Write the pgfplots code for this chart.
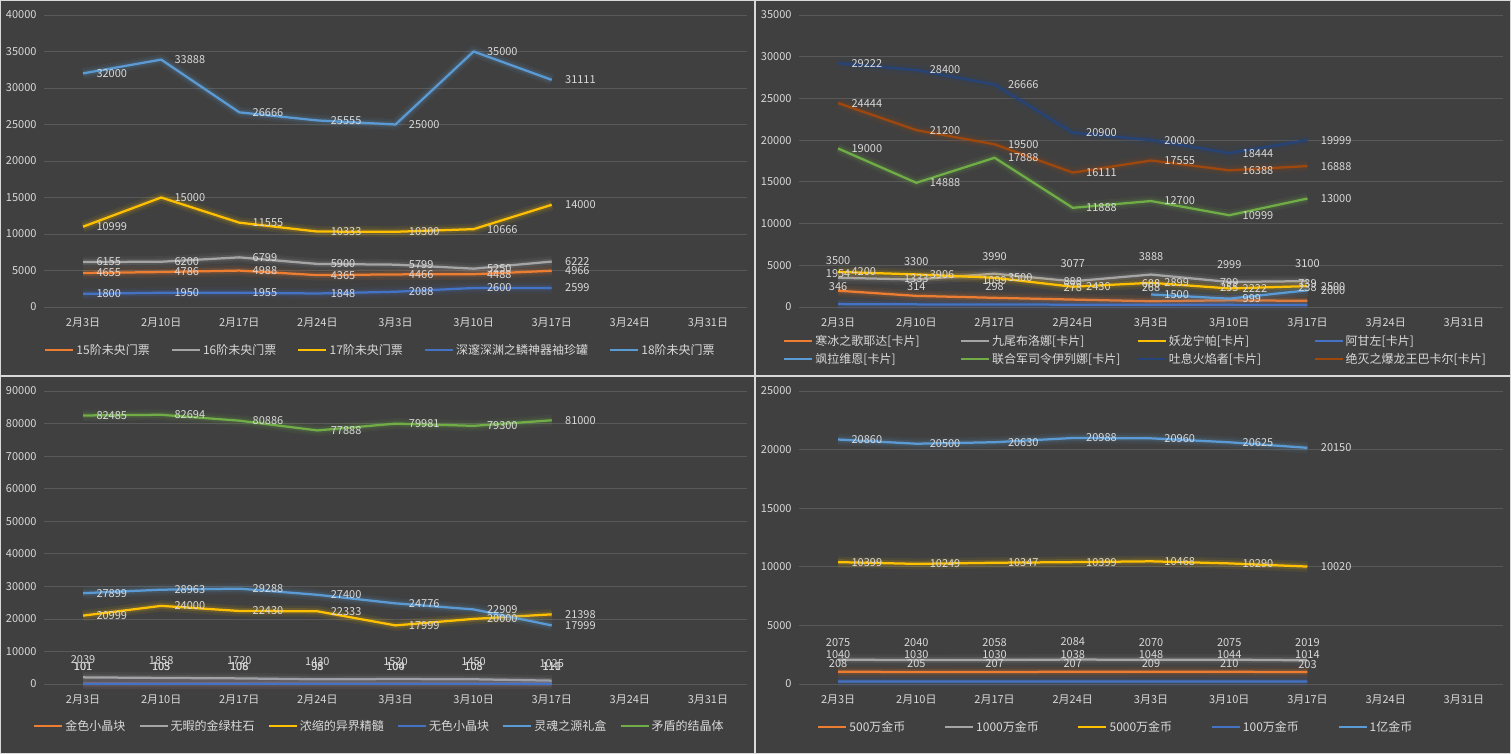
\documentclass[border=0pt]{standalone}
\usepackage{pgfplots}
\pgfplotsset{compat=1.18}
\usepackage{pgfplotstable}
\usepackage{fontspec}
\setmainfont{Noto Sans CJK SC}

\definecolor{bg}{HTML}{404040}
\definecolor{sepc}{HTML}{D9D9D9}
\definecolor{gridc}{HTML}{595959}
\definecolor{txt}{HTML}{D9D9D9}
\definecolor{c1}{HTML}{ED7D31}
\definecolor{c2}{HTML}{A5A5A5}
\definecolor{c3}{HTML}{FFC000}
\definecolor{c4}{HTML}{4472C4}
\definecolor{c5}{HTML}{5B9BD5}
\definecolor{c6}{HTML}{70AD47}
\definecolor{c7}{HTML}{264478}
\definecolor{c8}{HTML}{9E480E}

% top left: tickets
\pgfplotstableread{
x a b c d e
0 4655 6155 10999 1800 32000
1 4786 6200 15000 1950 33888
2 4988 6799 11555 1955 26666
3 4365 5900 10333 1848 25555
4 4466 5799 10300 2088 25000
5 4488 5250 10666 2600 35000
6 4966 6222 14000 2599 31111
}\tla

% top right: cards
\pgfplotstableread{
x a b c d e f g h
0 1954 3500 4200 346 nan 19000 29222 24444
1 1333 3300 3906 314 nan 14888 28400 21200
2 1099 3990 3500 298 nan 17888 26666 19500
3 888 3077 2430 278 nan 11888 20900 16111
4 688 3888 2899 268 1500 12700 20000 17555
5 799 2999 2222 255 999 10999 18444 16388
6 739 3100 2500 238 2000 13000 19999 16888
}\tra

% bottom left: materials
\pgfplotstableread{
x a b c d e f
0 101 2039 20999 101 27899 82485
1 103 1858 24000 105 28963 82694
2 108 1720 22430 106 29288 80886
3 98 1430 22333 95 27400 77888
4 104 1520 17999 100 24776 79981
5 108 1450 20000 103 22909 79300
6 111 1025 21398 110 17999 81000
}\bla

% bottom right: gold
\pgfplotstableread{
x a b c d e
0 1040 2075 10399 208 20860
1 1030 2040 10249 205 20500
2 1030 2058 10347 207 20630
3 1038 2084 10399 207 20988
4 1048 2070 10468 209 20960
5 1044 2075 10290 210 20625
6 1014 2019 10020 203 20150
}\bra

\pgfplotsset{
  panel/.style={
    scale only axis, clip=false,
    xmin=-0.5, xmax=8.5, ymin=0,
    xtick={0,...,8},
    xticklabels={2月3日,2月10日,2月17日,2月24日,3月3日,3月10日,3月17日,3月24日,3月31日},
    scaled y ticks=false,
    axis line style={draw=none}, major tick length=0pt,
    ymajorgrids, grid style={draw=gridc, line width=0.75pt},
    tick label style={text=txt, font=\fontsize{11}{13}\selectfont},
    yticklabel style={xshift=-4pt},
    xticklabel style={yshift=-7pt},
    legend style={draw=none, fill=none, inner sep=0pt, text=txt,
      font=\fontsize{12}{14}\selectfont, anchor=west},
    legend columns=-1,
    legend image code/.code={\draw[##1, line width=2.25pt] (0pt,0pt) -- (28pt,0pt);},
    every node near coord/.append style={text=txt, font=\fontsize{11}{13}\selectfont},
  },
  lr/.style={nodes near coords, every node near coord/.append style={anchor=west, xshift=9pt}},
  la/.style={nodes near coords, every node near coord/.append style={anchor=south, yshift=9pt}},
  /pgf/number format/.cd, fixed, precision=0, 1000 sep={}, assume math mode=true,
}

% table, column, colour, label side, legend text
\newcommand\ser[5]{%
  \addplot[forget plot, draw=#3, line width=11pt, opacity=0.08, line join=round] table[x=x,y=#2]{#1};
  \addplot[forget plot, draw=#3, line width=6pt, opacity=0.15, line join=round] table[x=x,y=#2]{#1};
  \addplot[draw=#3, line width=2.25pt, line join=round, #4] table[x=x,y=#2]{#1};
  \addlegendentry{#5}
}

\begin{document}
\begin{tikzpicture}
\fill[sepc] (0,0) rectangle (1511pt,754pt);
\fill[bg] (1pt,379pt) rectangle (754pt,753pt);
\fill[bg] (756pt,379pt) rectangle (1510pt,753pt);
\fill[bg] (1pt,1pt) rectangle (754pt,377pt);
\fill[bg] (756pt,1pt) rectangle (1510pt,377pt);

\begin{axis}[panel, at={(44pt,447pt)}, anchor=south west, width=703pt, height=292pt,
    ymax=40000, ytick={0,5000,...,40000},
    legend style={at={(0,-0.147)}, /tikz/every even column/.append style={column sep=19pt}}]
  \ser{\tla}{a}{c1}{lr}{15阶未央门票}
  \ser{\tla}{b}{c2}{lr}{16阶未央门票}
  \ser{\tla}{c}{c3}{lr}{17阶未央门票}
  \ser{\tla}{d}{c4}{lr}{深邃深渊之鳞神器袖珍罐}
  \ser{\tla}{e}{c5}{lr}{18阶未央门票}
\end{axis}

\begin{axis}[panel, at={(799pt,447pt)}, anchor=south west, width=704pt, height=292pt,
    ymax=35000, ytick={0,5000,...,35000}, legend columns=4,
    legend style={at={(-0.0227,-0.147)}, nodes={text width=135pt}, row sep=2pt,
      /tikz/every even column/.append style={column sep=7.5pt}}]
  \ser{\tra}{a}{c1}{la}{寒冰之歌耶达[卡片]}
  \ser{\tra}{b}{c2}{la}{九尾布洛娜[卡片]}
  \ser{\tra}{c}{c3}{lr}{妖龙宁帕[卡片]}
  \ser{\tra}{d}{c4}{la}{阿甘左[卡片]}
  \ser{\tra}{e}{c5}{lr}{飒拉维恩[卡片]}
  \ser{\tra}{f}{c6}{lr}{联合军司令伊列娜[卡片]}
  \ser{\tra}{g}{c7}{lr}{吐息火焰者[卡片]}
  \ser{\tra}{h}{c8}{lr}{绝灭之爆龙王巴卡尔[卡片]}
\end{axis}

\begin{axis}[panel, at={(44pt,70pt)}, anchor=south west, width=703pt, height=293pt,
    ymax=90000, ytick={0,10000,...,90000},
    legend style={at={(-0.0156,-0.143)}, /tikz/every even column/.append style={column sep=11pt}}]
  \ser{\bla}{a}{c1}{la}{金色小晶块}
  \ser{\bla}{b}{c2}{la}{无暇的金绿柱石}
  \ser{\bla}{c}{c3}{lr}{浓缩的异界精髓}
  \ser{\bla}{d}{c4}{la}{无色小晶块}
  \ser{\bla}{e}{c5}{lr}{灵魂之源礼盒}
  \ser{\bla}{f}{c6}{lr}{矛盾的结晶体}
\end{axis}

\begin{axis}[panel, at={(799pt,70pt)}, anchor=south west, width=704pt, height=293pt,
    ymax=25000, ytick={0,5000,...,25000},
    legend style={at={(0.0256,-0.147)}, /tikz/every even column/.append style={column sep=36.5pt}}]
  \ser{\bra}{a}{c1}{la}{500万金币}
  \ser{\bra}{b}{c2}{la}{1000万金币}
  \ser{\bra}{c}{c3}{lr}{5000万金币}
  \ser{\bra}{d}{c4}{la}{100万金币}
  \ser{\bra}{e}{c5}{lr}{1亿金币}
\end{axis}
\pgfresetboundingbox
\useasboundingbox (0,0) rectangle (1511pt,754pt);
\end{tikzpicture}
\end{document}
